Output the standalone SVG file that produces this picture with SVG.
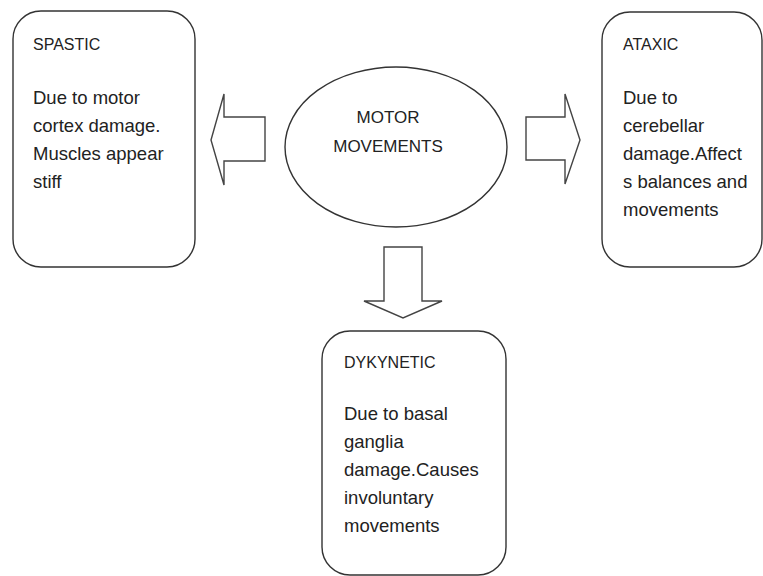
<svg xmlns="http://www.w3.org/2000/svg" width="763" height="576" viewBox="0 0 763 576">
<style>
.box{fill:#fff;stroke:#333;stroke-width:1.4}
.arr{fill:#fff;stroke:#444;stroke-width:1.4;stroke-linejoin:miter}
.h{font-family:"Liberation Sans",Arial,sans-serif;font-size:16px;fill:#222}
.b{font-family:"Liberation Sans",Arial,sans-serif;font-size:18.5px;fill:#222}
.c{font-family:"Liberation Sans",Arial,sans-serif;font-size:17px;fill:#222;text-anchor:middle}
</style>
<rect width="763" height="576" fill="#fff"/>
<g id="connectors">
<polygon class="arr" points="265,117 224,117 224,94 211,140 224,185 224,161 265,161"/>
<polygon class="arr" points="526,117 565,117 565,94 580,140 565,184 565,160 526,160"/>
<polygon class="arr" points="384,247 422,247 422,301 442,301 403,318 364,301 384,301"/>
</g>
<g id="motor">
<ellipse class="box" cx="396" cy="147" rx="111" ry="80"/>
<text class="c" x="388" y="123">MOTOR</text>
<text class="c" x="388" y="152">MOVEMENTS</text>
</g>
<g id="spastic">
<rect class="box" x="13" y="11" width="182" height="256" rx="28" ry="28"/>
<text class="h" x="33" y="50">SPASTIC</text>
<text class="b" x="33" y="104">Due to motor</text>
<text class="b" x="33" y="132">cortex damage.</text>
<text class="b" x="33" y="160">Muscles appear</text>
<text class="b" x="33" y="188">stiff</text>
</g>
<g id="ataxic">
<rect class="box" x="602" y="12" width="160" height="255" rx="28" ry="28"/>
<text class="h" x="623" y="50">ATAXIC</text>
<text class="b" x="623" y="104">Due to</text>
<text class="b" x="623" y="132">cerebellar</text>
<text class="b" x="623" y="160">damage.Affect</text>
<text class="b" x="623" y="188">s balances and</text>
<text class="b" x="623" y="216">movements</text>
</g>
<g id="dykynetic">
<rect class="box" x="322" y="331" width="184" height="244" rx="28" ry="28"/>
<text class="h" x="344" y="368">DYKYNETIC</text>
<text class="b" x="344" y="420">Due to basal</text>
<text class="b" x="344" y="448">ganglia</text>
<text class="b" x="344" y="476">damage.Causes</text>
<text class="b" x="344" y="504">involuntary</text>
<text class="b" x="344" y="532">movements</text>
</g>
</svg>
